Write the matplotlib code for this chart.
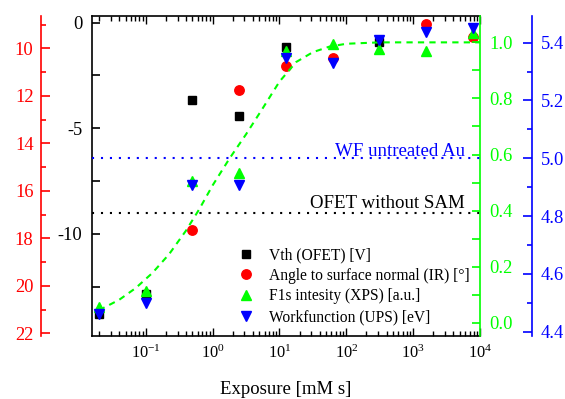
import numpy as np
import matplotlib
matplotlib.use("Agg")
import matplotlib.pyplot as plt

plt.rcParams['font.family'] = ['Liberation Serif', 'DejaVu Serif']
plt.rcParams['mathtext.fontset'] = 'custom'
plt.rcParams['mathtext.rm'] = 'Liberation Serif'
plt.rcParams['mathtext.it'] = 'Liberation Serif:italic'
plt.rcParams['axes.unicode_minus'] = False

# exposure [mM s]
exposure = [0.02, 0.1, 0.5, 2.5, 12.5, 62.5, 312.5, 1562.5, 7812.5]

# Vth (OFET) [V]
vth_x = [0.02, 0.1, 0.5, 2.5, 12.5, 312.5]
vth = [-13.8, -12.85, -3.65, -4.4, -1.15, -0.9]

# angle to surface normal (IR) [deg]
angle_x = [0.5, 2.5, 12.5, 62.5, 1562.5, 7812.5]
angle = [17.65, 11.76, 10.73, 10.42, 8.98, 9.54]

# F1s intensity (XPS) [a.u.]
f1s = [0.055, 0.114, 0.506, 0.535, 0.970, 0.994, 0.975, 0.970, 1.032]

# workfunction (UPS) [eV]
wf = [4.461, 4.500, 4.908, 4.908, 5.346, 5.329, 5.409, 5.438, 5.450]

# dashed fit through F1s data
fit_x = [0.02, 0.04, 0.0708, 0.126, 0.224, 0.398, 0.631, 1.0, 1.78, 3.16,
         5.62, 10.0, 17.8, 31.6, 56.2, 100, 316, 10000]
fit_y = [0.045, 0.082, 0.124, 0.178, 0.245, 0.328, 0.405, 0.49, 0.585, 0.672,
         0.765, 0.86, 0.93, 0.965, 0.985, 0.995, 1.0, 1.0]

wf_au = 5.0
vth_nosam = -9.0

RED = '#ff0000'
GREEN = '#00ff00'
BLUE = '#0000ff'
TICK_FS = 13.3

fig = plt.figure(figsize=(5.65, 3.99), dpi=100)
ax = fig.add_axes([92/565, 63/399, 388/565, 320/399])
ax_r = ax.twinx()
ax_g = ax.twinx()
ax_b = ax.twinx()

# main (black) axis
ax.set_xscale('log')
ax.set_xlim(0.0157, 1e4)
ax.set_ylim(-14.83, 0.31)
ax.set_yticks([0, -5, -10])
ax.set_yticks([-2.5, -7.5, -12.5], minor=True)
ax.spines['right'].set_visible(False)
for s in ['left', 'top', 'bottom']:
    ax.spines[s].set_linewidth(1.2)
ax.tick_params(axis='y', which='both', direction='in', left=True, right=False,
               labelsize=TICK_FS, pad=7, width=1.2)
ax.tick_params(axis='y', which='major', length=6)
ax.tick_params(axis='y', which='minor', length=6)
ax.tick_params(axis='x', which='both', direction='in', top=True, bottom=True,
               labelsize=11.8, pad=6, width=1.0)
ax.tick_params(axis='x', which='major', length=6)
ax.tick_params(axis='x', which='minor', length=3.5)
ax.xaxis.set_major_locator(matplotlib.ticker.LogLocator(base=10, numticks=10))
ax.xaxis.set_minor_locator(matplotlib.ticker.LogLocator(base=10, subs=np.arange(2, 10), numticks=20))
ax.xaxis.set_minor_formatter(matplotlib.ticker.NullFormatter())
ax.set_xlabel('Exposure [mM s]', fontsize=13.5, labelpad=14)

# red axis, moved out to the left, inverted
ax_r.set_ylim(22.11, 8.64)
ax_r.yaxis.set_ticks_position('left')
ax_r.yaxis.set_label_position('left')
ax_r.spines['left'].set_position(('axes', -0.131))
ax_r.spines['left'].set_color(RED)
ax_r.spines['left'].set_linewidth(1.2)
for s in ['right', 'top', 'bottom']:
    ax_r.spines[s].set_visible(False)
ax_r.set_yticks([10, 12, 14, 16, 18, 20, 22])
ax_r.set_yticks([9, 11, 13, 15, 17, 19, 21], minor=True)
ax_r.tick_params(axis='y', which='both', direction='in', colors=RED,
                 labelsize=TICK_FS, pad=5.5, width=1.2)
ax_r.tick_params(axis='y', which='major', length=6.5)
ax_r.tick_params(axis='y', which='minor', length=3.5)

# green axis on the plot's right edge
ax_g.set_ylim(-0.047, 1.094)
for s in ['left', 'top', 'bottom']:
    ax_g.spines[s].set_visible(False)
ax_g.spines['right'].set_color(GREEN)
ax_g.spines['right'].set_linewidth(1.2)
ax_g.set_yticks([0.0, 0.2, 0.4, 0.6, 0.8, 1.0])
ax_g.set_yticks([0.1, 0.3, 0.5, 0.7, 0.9], minor=True)
ax_g.yaxis.set_major_formatter(matplotlib.ticker.FormatStrFormatter('%.1f'))
ax_g.tick_params(axis='y', which='both', direction='in', colors=GREEN,
                 labelsize=TICK_FS, pad=7, width=1.2)
ax_g.tick_params(axis='y', which='major', length=6)
ax_g.tick_params(axis='y', which='minor', length=6)

# blue axis further out
ax_b.set_ylim(4.385, 5.492)
for s in ['left', 'top', 'bottom']:
    ax_b.spines[s].set_visible(False)
ax_b.spines['right'].set_position(('axes', 1.133))
ax_b.spines['right'].set_color(BLUE)
ax_b.spines['right'].set_linewidth(1.2)
ax_b.set_yticks([4.4, 4.6, 4.8, 5.0, 5.2, 5.4])
ax_b.set_yticks([4.5, 4.7, 4.9, 5.1, 5.3], minor=True)
ax_b.yaxis.set_major_formatter(matplotlib.ticker.FormatStrFormatter('%.1f'))
ax_b.tick_params(axis='y', which='both', direction='in', colors=BLUE,
                 labelsize=TICK_FS, pad=6.5, width=1.2)
ax_b.tick_params(axis='y', which='major', length=6.5)
ax_b.tick_params(axis='y', which='minor', length=3.5)

# reference lines
ax.axhline(vth_nosam, color='black', lw=1.5, ls=(0, (1, 3.3)))
ax_b.axhline(wf_au, color=BLUE, lw=1.5, ls=(0, (1, 3.3)))
ax.text(0.961, 0.399, 'OFET without SAM', transform=ax.transAxes,
        ha='right', va='baseline', fontsize=13.6, color='black')
ax.text(0.961, 0.5625, 'WF untreated Au', transform=ax.transAxes,
        ha='right', va='baseline', fontsize=13.6, color=BLUE)

# data
h1, = ax.plot(vth_x, vth, 's', color='black', ms=6, ls='none', label='Vth (OFET) [V]')
h2, = ax_r.plot(angle_x, angle, 'o', color=RED, ms=6.8, ls='none',
                label='Angle to surface normal (IR) [°]')
ax_g.plot(fit_x, fit_y, color=GREEN, lw=1.5, dashes=(3, 2.5))
h3, = ax_g.plot(exposure, f1s, '^', color=GREEN, ms=7.5, ls='none',
                label='F1s intesity (XPS) [a.u.]')
h4, = ax_b.plot(exposure, wf, 'v', color=BLUE, ms=7.5, ls='none',
                label='Workfunction (UPS) [eV]')

ax_b.legend(handles=[h1, h2, h3, h4], loc='upper left',
            bbox_to_anchor=(0.376, 0.278), frameon=False, fontsize=11.2,
            handlelength=1.0, handletextpad=1.0, labelspacing=0.3,
            borderpad=0, borderaxespad=0)

fig.savefig('out.png', dpi=100)
